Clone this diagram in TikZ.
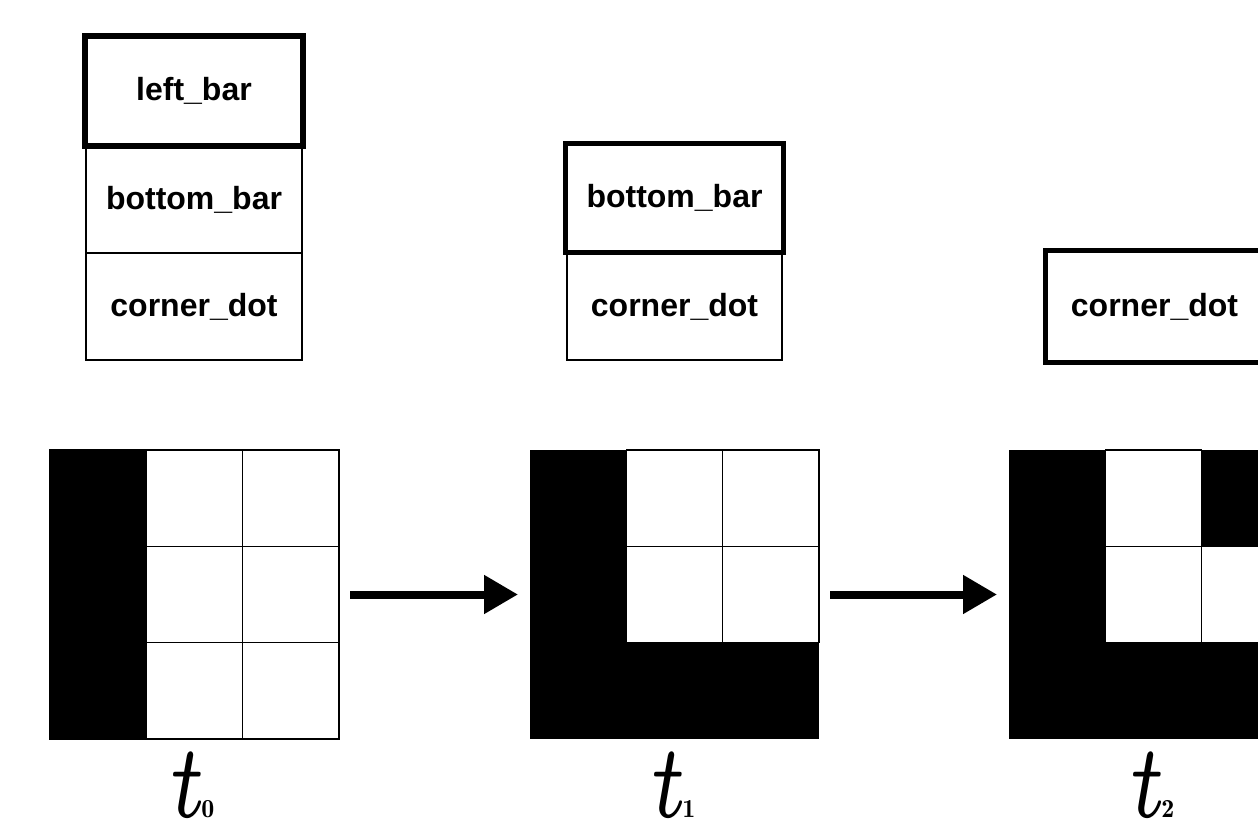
\documentclass[tikz,border=0pt]{standalone}
\usepackage{graphicx}
\usepackage{fontspec}
\setsansfont{Liberation Sans}
\usetikzlibrary{arrows.meta}
\newcommand{\tlab}[1]{\scalebox{7.2}[10.5]{$\scriptscriptstyle t$}\kern-3.5pt\scalebox{2.6}{$\scriptscriptstyle\mathbf{#1}$}}
\begin{document}
\begin{tikzpicture}[x=0.5pt,y=-0.5pt,
  lbl/.style={font=\sffamily\bfseries\fontsize{16pt}{16pt}\selectfont, inner sep=0pt},
  thinbox/.style={draw, line width=0.75pt, minimum width=108pt, minimum height=53pt, lbl},
  thickbox/.style={draw, line width=2.6pt, minimum width=109pt, minimum height=55pt, lbl},
  gridbox/.style={minimum size=144.5pt, inner sep=0pt, outer sep=0pt},
  cell/.style={draw, fill=white, line width=0.75pt},
  flow/.style={line width=4pt, -{Triangle[length=17pt,width=18.5pt]}, shorten <=5.5pt, shorten >=6pt},
  tlabel/.style={inner sep=0pt, anchor=base}
]
\useasboundingbox (0,0) rectangle (1258,828);

% ---- stack 1
\node[thinbox] (s1b) at (194,200) {bottom\_bar};
\node[thinbox, minimum height=53.5pt] (s1c) at (194,306.5) {corner\_dot};
\node[thickbox] (s1a) at (194,91) {left\_bar};

% ---- stack 2
\node[thinbox, minimum width=107.5pt, minimum height=53.5pt] (s2c) at (674.5,306.5) {corner\_dot};
\node[thickbox, minimum height=54.5pt] (s2a) at (674.5,198) {bottom\_bar};

% ---- stack 3
\node[thickbox, minimum height=56pt] (s3a) at (1154.5,306.5) {corner\_dot};

% ---- grid 1
\node[gridbox] (g1) at (194.5,594.5) {};
\fill[black] (50,450) rectangle ++(96.33,289);
\foreach \i/\j in {1/0,2/0,1/1,2/1,1/2,2/2}
  \draw[cell] ({50+\i*96.33},{450+\j*96.33}) rectangle ++(96.33,96.33);
\draw[line width=0.75pt] (50,450) rectangle (339,739);

% ---- grid 2
\node[gridbox] (g2) at (674.5,594.5) {};
\fill[black] (530,450) rectangle (626.33,739);
\fill[black] (530,642.67) rectangle (819,739);
\foreach \i/\j in {1/0,2/0,1/1,2/1}
  \draw[cell] ({530+\i*96.33},{450+\j*96.33}) rectangle ++(96.33,96.33);

% ---- grid 3
\node[gridbox] (g3) at (1153.5,594.5) {};
\fill[black] (1009,450) rectangle (1105.33,739);
\fill[black] (1009,642.67) rectangle (1298,739);
\fill[black] (1201.67,450) rectangle (1298,546.33);
\foreach \i/\j in {1/0,1/1,2/1}
  \draw[cell] ({1009+\i*96.33},{450+\j*96.33}) rectangle ++(96.33,96.33);

% ---- arrows
\draw[flow] (g1.east) -- (g2.west);
\draw[flow] (g2.east) -- (g3.west);

% ---- labels
\node[tlabel] (l0) at (191,817) {\tlab{0}};
\node[tlabel] (l1) at (672,817) {\tlab{1}};
\node[tlabel] (l2) at (1151,817) {\tlab{2}};
\end{tikzpicture}
\end{document}
